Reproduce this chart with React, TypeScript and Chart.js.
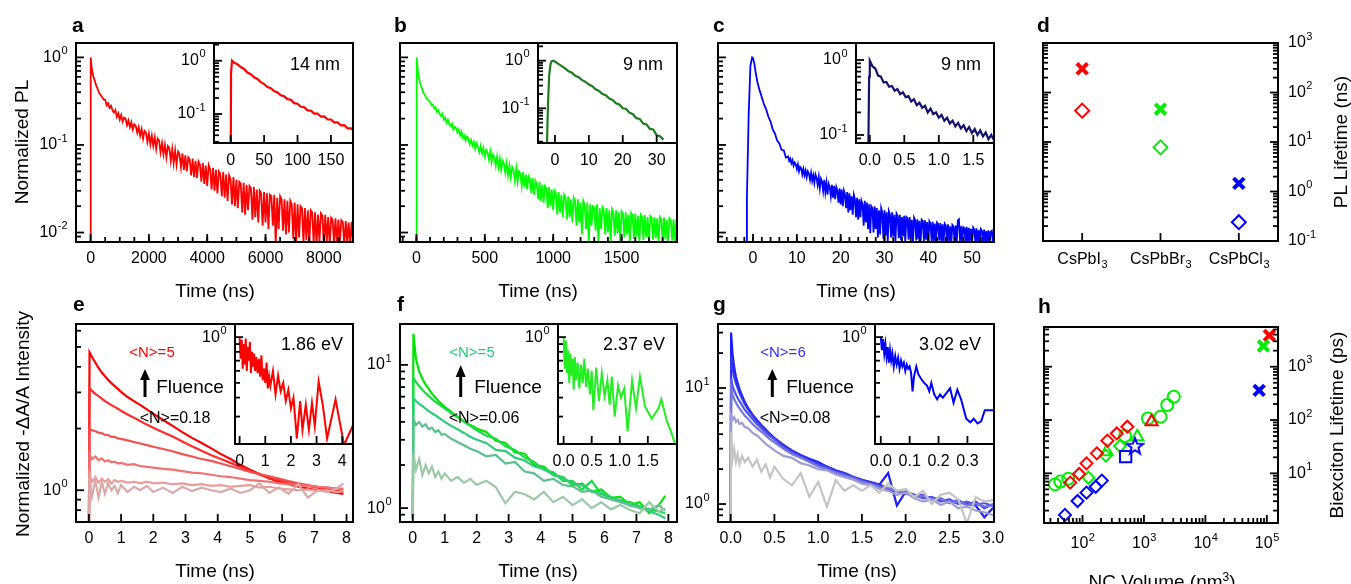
import React, { useEffect, useRef } from "react";
import { Chart, registerables } from "chart.js";
Chart.register(...registerables);

const FONT = '"Liberation Sans", Arial, Helvetica, sans-serif';
const W = 1351;
const H = 584;

// ---------------- Panel a (CsPbI3 PL) ----------------
const A_MAIN: number[][] = [[-400,0.001],[0,0.001],[5,1.0],[30,0.8],[60,0.68],[100,0.6],[150,0.53],[200,0.47],[250,0.43],[300,0.39],[350,0.37],[400,0.35],[450,0.33],
[500,0.33],[550,0.285],[600,0.3],[650,0.265],[700,0.28],[750,0.25],[800,0.235],[850,0.25],[900,0.21],[950,0.23],[1000,0.195],[1050,0.22],[1100,0.185],[1150,0.205],[1200,0.2],[1250,0.168],[1300,0.19],[1350,0.16],[1400,0.182],[1450,0.15],[1500,0.172],[1550,0.165],[1600,0.138],[1650,0.16],[1700,0.128],[1750,0.152],[1800,0.118],[1850,0.145],[1900,0.138],[1950,0.108],[2000,0.135],[2050,0.102],[2100,0.128],[2150,0.098],[2200,0.122],[2250,0.09],[2300,0.118],[2350,0.112],[2400,0.082],[2450,0.105],[2500,0.078],[2550,0.1],[2600,0.072],[2650,0.097],[2700,0.092],[2750,0.066],[2800,0.09],[2850,0.062],[2900,0.086],[2950,0.06],[3000,0.084],[3050,0.078],[3100,0.056],[3150,0.08],[3200,0.052],[3250,0.076],[3300,0.05],[3350,0.072],[3400,0.068],[3450,0.045],[3500,0.07],[3550,0.043],[3600,0.066],[3650,0.042],[3700,0.065],[3750,0.06],[3800,0.038],[3850,0.062],[3900,0.036],[3950,0.058],[4000,0.034],[4050,0.059],[4100,0.053],[4150,0.031],[4200,0.055],[4250,0.03],[4300,0.052],[4350,0.028],[4400,0.05],[4450,0.047],[4500,0.026],[4550,0.049],[4600,0.025],[4650,0.046],[4700,0.023],[4750,0.045],[4800,0.041],[4850,0.021],[4900,0.043],[4950,0.02],[5000,0.04],[5050,0.019],[5100,0.038],[5150,0.036],[5200,0.017],[5250,0.037],[5300,0.016],[5350,0.035],[5400,0.018],[5450,0.034],[5500,0.032],[5550,0.014],[5600,0.033],[5650,0.015],[5700,0.031],[5750,0.013],[5800,0.03],[5850,0.028],[5900,0.012],[5950,0.029],[6000,0.013],[6050,0.028],[6100,0.011],[6150,0.027],[6200,0.026],[6250,0.012],[6300,0.027],[6350,0.0072],[6400,0.025],[6450,0.011],[6500,0.026],[6550,0.024],[6600,0.0105],[6650,0.024],[6700,0.0095],[6750,0.023],[6800,0.01],[6850,0.023],[6900,0.021],[6950,0.0085],[7000,0.022],[7050,0.0074],[7100,0.021],[7150,0.0088],[7200,0.02],[7250,0.019],[7300,0.0076],[7350,0.019],[7400,0.0082],[7450,0.018],[7500,0.0075],[7550,0.018],[7600,0.017],[7650,0.0077],[7700,0.017],[7750,0.0073],[7800,0.016],[7850,0.0079],[7900,0.0165],[7950,0.0155],[8000,0.0074],[8050,0.016],[8100,0.0077],[8150,0.015],[8200,0.0072],[8250,0.0148],[8300,0.014],[8350,0.0076],[8400,0.0145],[8450,0.0073],[8500,0.014],[8550,0.0078],[8600,0.0138],[8650,0.0132],[8700,0.0074],[8750,0.0135],[8800,0.0077],[8850,0.013],[8900,0.0072],[8950,0.0133],[9000,0.0078]];
const A_INSET: number[][] = [[-25,0.005],[0,0.005],[0.5,0.6],[2,1.0],[5,0.92],[10,0.86],[15,0.76],[20,0.7],[25,0.6],[30,0.56],[35,0.49],[40,0.455],[45,0.395],[50,0.365],[55,0.32],[60,0.305],[65,0.27],[70,0.255],[75,0.225],[80,0.215],[85,0.19],[90,0.185],[95,0.16],[100,0.156],[105,0.137],[110,0.134],[115,0.117],[120,0.116],[125,0.102],[130,0.102],[135,0.089],[140,0.09],[145,0.079],[150,0.079],[155,0.069],[160,0.07],[165,0.061],[170,0.062],[175,0.054],[180,0.054],[185,0.049]];

// ---------------- Panel b (CsPbBr3 PL) ----------------
const B_MAIN: number[][] = [[-120,0.001],[0,0.001],[2,1.0],[10,0.7],[25,0.52],[50,0.4],[75,0.34],
[100,0.31],[110,0.285],[120,0.29],[130,0.26],[140,0.27],[150,0.24],[160,0.25],[170,0.225],[180,0.215],[190,0.228],[200,0.195],[210,0.205],[220,0.18],[230,0.195],[240,0.172],[250,0.165],[260,0.175],[270,0.15],[280,0.162],[290,0.155],[300,0.138],[310,0.15],[320,0.128],[330,0.142],[340,0.12],[350,0.128],[360,0.112],[370,0.125],[380,0.118],[390,0.102],[400,0.114],[410,0.098],[420,0.108],[430,0.09],[440,0.104],[450,0.095],[460,0.083],[470,0.098],[480,0.08],[490,0.092],[500,0.074],[510,0.088],[520,0.082],[530,0.068],[540,0.084],[550,0.064],[560,0.078],[570,0.072],[580,0.058],[590,0.074],[600,0.056],[610,0.07],[620,0.052],[630,0.066],[640,0.061],[650,0.048],[660,0.062],[670,0.045],[680,0.058],[690,0.043],[700,0.056],[710,0.052],[720,0.039],[730,0.054],[740,0.038],[750,0.05],[760,0.047],[770,0.034],[780,0.049],[790,0.033],[800,0.046],[810,0.031],[820,0.044],[830,0.041],[840,0.028],[850,0.042],[860,0.027],[870,0.039],[880,0.036],[890,0.024],[900,0.038],[910,0.023],[920,0.035],[930,0.022],[940,0.034],[950,0.032],[960,0.019],[970,0.033],[980,0.02],[990,0.031],[1000,0.018],[1010,0.03],[1020,0.028],[1030,0.016],[1040,0.029],[1050,0.017],[1060,0.027],[1070,0.015],[1080,0.027],[1090,0.025],[1100,0.014],[1110,0.026],[1120,0.015],[1130,0.024],[1140,0.013],[1150,0.025],[1160,0.023],[1170,0.012],[1180,0.024],[1190,0.013],[1200,0.022],[1210,0.0095],[1220,0.023],[1230,0.021],[1240,0.011],[1250,0.022],[1260,0.0075],[1270,0.021],[1280,0.012],[1290,0.02],[1300,0.0195],[1310,0.0105],[1320,0.021],[1330,0.0077],[1340,0.019],[1350,0.011],[1360,0.0195],[1370,0.018],[1380,0.0095],[1390,0.019],[1400,0.01],[1410,0.018],[1420,0.0076],[1430,0.0185],[1440,0.017],[1450,0.0092],[1460,0.018],[1470,0.0098],[1480,0.017],[1490,0.0078],[1500,0.0175],[1510,0.0165],[1520,0.0088],[1530,0.017],[1540,0.0095],[1550,0.016],[1560,0.0077],[1570,0.0168],[1580,0.0158],[1590,0.0085],[1600,0.0165],[1610,0.009],[1620,0.0155],[1630,0.0076],[1640,0.016],[1650,0.015],[1660,0.0082],[1670,0.0158],[1680,0.0088],[1690,0.015],[1700,0.0078],[1710,0.0155],[1720,0.0148],[1730,0.0083],[1740,0.015],[1750,0.0086],[1760,0.0145],[1770,0.0077],[1780,0.015],[1790,0.0142],[1800,0.008],[1810,0.0148],[1820,0.0084],[1830,0.014],[1840,0.0076],[1850,0.0145],[1860,0.0138],[1870,0.0081],[1880,0.0142],[1890,0.0079],[1900,0.014]];
const B_INSET: number[][] = [[-5,0.005],[-2.5,0.005],[-2.2,0.05],[-2,0.15],[-1.7,0.5],[-1.3,0.85],[-1,0.97],[-0.5,1.0],[0,0.96],[1,0.86],[2,0.77],[3,0.69],[4,0.6],[5,0.56],[6,0.48],[7,0.45],[8,0.39],[9,0.36],[10,0.315],[11,0.29],[12,0.25],[13,0.232],[14,0.2],[15,0.188],[16,0.16],[17,0.15],[18,0.128],[19,0.12],[20,0.1],[21,0.097],[22,0.081],[23,0.075],[24,0.062],[25,0.06],[26,0.048],[27,0.046],[28,0.037],[29,0.036],[30,0.027],[31,0.026],[32,0.022]];

// ---------------- Panel c (CsPbCl3 PL) ----------------
const C_MAIN: number[][] = [[-8,0.001],[-1.6,0.001],[-1.4,0.025],[-1,0.22],[-0.6,0.8],[-0.2,1.0],[0,0.98],[0.3,0.85],[0.5,0.72],[1,0.52],[1.5,0.42],[2,0.35],[2.5,0.29],[3,0.255],[3.5,0.21],[4,0.185],[4.5,0.15],[5,0.135],[5.5,0.112],[6,0.104],[6.5,0.088],[7,0.087],[7.5,0.072],
[8.0,0.074],[8.25,0.066],[8.5,0.07],[8.75,0.062],[9.0,0.067],[9.25,0.058],[9.5,0.063],[9.75,0.06],[10.0,0.053],[10.25,0.06],[10.5,0.05],[10.75,0.056],[11.0,0.054],[11.25,0.046],[11.5,0.053],[11.75,0.045],[12.0,0.051],[12.25,0.043],[12.5,0.05],[12.75,0.047],[13.0,0.04],[13.25,0.048],[13.5,0.039],[13.75,0.045],[14.0,0.037],[14.25,0.046],[14.5,0.042],[14.75,0.035],[15.0,0.043],[15.25,0.032],[15.5,0.041],[15.75,0.038],[16.0,0.03],[16.25,0.04],[16.5,0.029],[16.75,0.037],[17.0,0.027],[17.25,0.036],[17.5,0.033],[17.75,0.026],[18.0,0.035],[18.25,0.025],[18.5,0.034],[18.75,0.024],[19.0,0.033],[19.25,0.03],[19.5,0.022],[19.75,0.032],[20.0,0.021],[20.25,0.031],[20.5,0.02],[20.75,0.03],[21.0,0.027],[21.25,0.019],[21.5,0.029],[21.75,0.017],[22.0,0.028],[22.25,0.018],[22.5,0.026],[22.75,0.016],[23.0,0.027],[23.25,0.024],[23.5,0.015],[23.75,0.025],[24.0,0.014],[24.25,0.024],[24.5,0.015],[24.75,0.023],[25.0,0.021],[25.25,0.012],[25.5,0.023],[25.75,0.013],[26.0,0.022],[26.25,0.011],[26.5,0.021],[26.75,0.0098],[27.0,0.02],[27.25,0.019],[27.5,0.01],[27.75,0.02],[28.0,0.011],[28.25,0.019],[28.5,0.0088],[28.75,0.018],[29.0,0.0095],[29.25,0.019],[29.5,0.017],[29.75,0.0085],[30.0,0.018],[30.25,0.0092],[30.5,0.017],[30.75,0.008],[31.0,0.0175],[31.25,0.016],[31.5,0.0088],[31.75,0.017],[32.0,0.009],[32.25,0.016],[32.5,0.0078],[32.75,0.0165],[33.0,0.0155],[33.25,0.0086],[33.5,0.016],[33.75,0.0082],[34.0,0.015],[34.25,0.009],[34.5,0.0155],[34.75,0.0077],[35.0,0.015],[35.25,0.0145],[35.5,0.0083],[35.75,0.015],[36.0,0.0086],[36.25,0.014],[36.5,0.0076],[36.75,0.0148],[37.0,0.0138],[37.25,0.0081],[37.5,0.0142],[37.75,0.0084],[38.0,0.0136],[38.25,0.0077],[38.5,0.014],[38.75,0.0135],[39.0,0.008],[39.25,0.0138],[39.5,0.0083],[39.75,0.0132],[40.0,0.0076],[40.25,0.0135],[40.5,0.0128],[40.75,0.008],[41.0,0.0133],[41.25,0.0079],[41.5,0.0127],[41.75,0.0077],[42.0,0.013],[42.25,0.0125],[42.5,0.0081],[42.75,0.0128],[43.0,0.0076],[43.25,0.0124],[43.5,0.0079],[43.75,0.0126],[44.0,0.012],[44.25,0.0077],[44.5,0.0124],[44.75,0.008],[45.0,0.0118],[45.25,0.0076],[45.5,0.0122],[45.75,0.0117],[46.0,0.0079],[46.25,0.012],[46.5,0.0077],[46.75,0.0138],[47.0,0.0142],[47.25,0.008],[47.5,0.0118],[47.75,0.0076],[48.0,0.0115],[48.25,0.0112],[48.5,0.0078],[48.75,0.0116],[49.0,0.0077],[49.25,0.0113],[49.5,0.0079],[49.75,0.011],[50.0,0.0076],[50.25,0.0114],[50.5,0.0108],[50.75,0.0078],[51.0,0.0112],[51.25,0.0077],[51.5,0.0107],[51.75,0.0079],[52.0,0.011],[52.25,0.0105],[52.5,0.0076],[52.75,0.0108],[53.0,0.0078],[53.25,0.0104],[53.5,0.0077],[53.75,0.0106],[54.0,0.0079],[54.25,0.0102],[54.5,0.0105],[54.75,0.0077],[55.0,0.0104]];
const C_INSET: number[][] = [[-0.2,0.01],[-0.03,0.01],[-0.01,0.6],[0,0.98],[0.04,0.82],[0.08,0.77],[0.12,0.62],[0.16,0.6],[0.2,0.5],[0.24,0.51],[0.28,0.44],[0.32,0.45],[0.36,0.39],[0.4,0.41],[0.44,0.35],[0.48,0.37],[0.52,0.32],[0.56,0.33],[0.6,0.28],[0.64,0.3],[0.68,0.25],[0.72,0.27],[0.76,0.23],[0.8,0.245],[0.84,0.2],[0.88,0.225],[0.92,0.19],[0.96,0.2],[1.0,0.17],[1.04,0.185],[1.08,0.155],[1.12,0.17],[1.16,0.142],[1.2,0.155],[1.24,0.13],[1.28,0.145],[1.32,0.122],[1.36,0.135],[1.4,0.113],[1.44,0.128],[1.48,0.106],[1.52,0.12],[1.56,0.1],[1.6,0.115],[1.64,0.096],[1.68,0.108],[1.72,0.088],[1.76,0.1],[1.8,0.085]];

// ---------------- Panel d (PL lifetimes) ----------------
const D_CATEGORIES = ["CsPbI_3", "CsPbBr_3", "CsPbCl_3"];
const D_TAU_CROSS = [302, 46, 1.46];
const D_TAU_DIAMOND = [43, 7.8, 0.24];

// ---------------- Panels e, f (TA kinetics) ----------------
const TA_TIME = [0,0.02,0.1,0.2,0.3,0.4,0.5,0.6,0.7,0.8,0.9,1.0,1.2,1.4,1.6,1.8,2.0,2.3,2.6,2.9,3.2,3.5,3.8,4.1,4.4,4.7,5.0,5.3,5.6,5.9,6.2,6.5,6.8,7.1,7.4,7.7,7.9];
const E_CURVE_1 = [0.6,4.7,4.45,4.2,3.95,3.75,3.6,3.45,3.33,3.22,3.12,3.02,2.85,2.72,2.6,2.48,2.36,2.2,2.06,1.92,1.8,1.7,1.6,1.5,1.42,1.33,1.26,1.2,1.14,1.1,1.07,1.04,1.02,1.0,0.99,0.97,0.96];
const E_CURVE_2 = [0.6,3.15,3.05,2.95,2.88,2.8,2.72,2.66,2.6,2.55,2.5,2.44,2.34,2.26,2.17,2.09,2.02,1.92,1.83,1.73,1.64,1.56,1.48,1.42,1.36,1.3,1.24,1.19,1.15,1.12,1.09,1.07,1.05,1.03,1.01,1.0,0.98];
const E_CURVE_3 = [0.6,2.0,1.96,1.94,1.91,1.9,1.86,1.86,1.82,1.82,1.79,1.78,1.75,1.72,1.69,1.66,1.63,1.59,1.55,1.5,1.46,1.42,1.39,1.35,1.31,1.27,1.23,1.2,1.17,1.14,1.11,1.08,1.06,1.04,1.03,1.02,1.01];
const E_CURVE_4 = [0.6,1.5,1.42,1.46,1.4,1.43,1.38,1.4,1.37,1.38,1.35,1.36,1.33,1.34,1.31,1.3,1.29,1.27,1.26,1.24,1.22,1.21,1.19,1.17,1.16,1.14,1.12,1.11,1.1,1.08,1.07,1.06,1.05,1.04,1.03,1.02,1.02];
const E_CURVE_5 = [0.6,1.2,1.1,1.16,1.09,1.14,1.1,1.13,1.08,1.12,1.1,1.11,1.09,1.1,1.08,1.1,1.08,1.09,1.07,1.08,1.06,1.07,1.05,1.06,1.04,1.05,1.06,1.03,1.04,1.02,1.01,1.0,1.01,0.99,1.0,0.98,0.99];
const E_CURVE_6 = [0.6,1.15,0.93,1.12,0.92,1.1,0.96,1.08,1.0,1.05,0.97,1.06,0.98,1.04,1.0,1.05,0.98,1.03,0.97,1.04,0.99,1.03,1.0,0.98,1.02,0.97,1.0,1.08,0.97,1.03,0.96,1.07,0.92,1.0,0.98,1.02,1.08];
const E_INSET: number[][] = [[0,1.0],[0.04,0.72],[0.08,0.96],[0.12,0.62],[0.16,0.9],[0.2,0.66],[0.24,0.98],[0.28,0.6],[0.32,0.86],[0.36,0.7],[0.4,0.93],[0.44,0.58],[0.48,0.8],[0.52,0.64],[0.56,0.78],[0.6,0.6],[0.65,0.74],[0.7,0.58],[0.75,0.72],[0.8,0.55],[0.85,0.76],[0.9,0.52],[0.95,0.62],[1.0,0.5],[1.05,0.68],[1.1,0.46],[1.15,0.55],[1.2,0.48],[1.3,0.6],[1.4,0.42],[1.5,0.56],[1.6,0.44],[1.7,0.5],[1.8,0.38],[1.9,0.45],[2.0,0.34],[2.1,0.4],[2.23,0.215],[2.36,0.38],[2.45,0.245],[2.58,0.36],[2.7,0.245],[2.82,0.37],[2.93,0.26],[3.08,0.51],[3.25,0.35],[3.41,0.215],[3.74,0.39],[4.07,0.195],[4.45,0.27]];

const F_CURVE_1 = [0.85,16.5,11,9.0,8.0,7.3,6.8,6.3,5.95,5.6,5.35,5.1,4.7,4.35,4.05,3.8,3.6,3.4,2.95,2.85,2.45,2.4,2.0,1.95,1.7,1.65,1.45,1.48,1.3,1.35,1.18,1.2,1.05,1.1,0.92,1.05,1.22];
const F_CURVE_2 = [0.85,8.1,7.6,7.1,6.7,6.35,6.05,5.8,5.55,5.35,5.15,4.95,4.6,4.3,4.0,3.75,3.5,3.2,3.05,2.7,2.55,2.25,2.1,1.85,1.78,1.55,1.55,1.35,1.55,1.25,1.2,1.12,1.1,1.03,0.98,0.95,0.92];
const F_CURVE_3 = [0.85,5.85,5.6,5.35,5.15,4.95,4.75,4.6,4.45,4.3,4.15,4.0,3.75,3.55,3.35,3.15,3.0,2.85,2.55,2.5,2.25,2.15,1.95,1.88,1.7,1.62,1.48,1.45,1.3,1.28,1.16,1.14,1.04,1.02,0.95,0.9,0.85];
const F_CURVE_4 = [0.85,4.2,3.8,4.0,3.7,3.85,3.55,3.65,3.4,3.5,3.25,3.3,3.05,2.9,2.75,2.6,2.5,2.3,2.35,2.05,2.1,1.8,1.75,1.55,1.6,1.45,1.42,1.3,1.33,1.2,1.15,1.1,1.05,1.0,0.97,1.05,0.96];
const F_CURVE_5 = [0.85,2.4,1.85,2.2,1.7,2.0,1.75,1.95,1.65,1.8,1.6,1.75,1.55,1.65,1.5,1.6,1.45,1.55,1.4,1.08,1.3,1.25,1.15,1.3,1.1,1.2,1.05,1.15,1.0,1.1,0.98,1.05,0.97,0.92,1.1,0.95,1.0];
const F_INSET: number[][] = [[0,1.0],[0.02,0.62],[0.04,0.95],[0.06,0.58],[0.08,0.82],[0.1,0.5],[0.12,0.78],[0.14,0.56],[0.16,0.72],[0.18,0.45],[0.2,0.74],[0.22,0.52],[0.25,0.68],[0.28,0.46],[0.31,0.66],[0.34,0.5],[0.37,0.72],[0.4,0.47],[0.43,0.62],[0.47,0.42],[0.5,0.6],[0.53,0.33],[0.58,0.63],[0.63,0.38],[0.68,0.58],[0.73,0.41],[0.78,0.52],[0.82,0.36],[0.86,0.55],[0.91,0.3],[0.97,0.48],[1.02,0.4],[1.08,0.46],[1.14,0.24],[1.22,0.52],[1.29,0.34],[1.36,0.55],[1.45,0.35],[1.57,0.29],[1.69,0.34],[1.74,0.39],[1.84,0.28],[1.93,0.23],[2.0,0.19]];

// ---------------- Panel g ----------------
const G_TIME = [0,0.005,0.02,0.04,0.06,0.08,0.1,0.13,0.16,0.2,0.25,0.3,0.35,0.4,0.45,0.5,0.6,0.7,0.8,0.9,1.0,1.1,1.2,1.3,1.4,1.5,1.6,1.7,1.8,1.9,2.0,2.1,2.2,2.3,2.4,2.5,2.6,2.7,2.8,2.9,3.0];
const G_CURVE_1 = [0.6,30,20,15,12.5,11,9.8,8.6,7.6,6.7,5.9,5.3,4.8,4.4,4.0,3.7,3.25,2.9,2.65,2.45,2.3,2.1,1.95,1.85,1.72,1.62,1.55,1.47,1.85,0.97,1.28,1.2,1.17,1.12,1.1,1.05,1.03,1.0,0.97,0.77,0.93];
const G_CURVE_2 = [0.6,19,15,12.5,11,10,9.1,8.1,7.3,6.5,5.8,5.2,4.75,4.35,4.0,3.7,3.2,2.85,2.6,2.4,2.2,2.1,1.92,1.85,1.7,1.62,1.5,1.48,1.35,1.3,1.25,1.18,1.2,1.1,1.12,1.02,1.08,0.98,1.05,0.92,1.0];
const G_CURVE_3 = [0.6,12,10.5,9.5,8.8,8.2,7.7,7.1,6.5,6.0,5.4,4.9,4.5,4.15,3.85,3.6,3.1,2.8,2.55,2.35,2.15,2.05,1.88,1.8,1.66,1.6,1.48,1.42,1.33,1.3,1.22,1.2,1.12,1.15,1.05,1.1,1.0,1.05,0.98,1.02,0.96];
const G_CURVE_4 = [0.6,10,8.8,8.0,7.5,7.0,6.7,6.2,5.8,5.4,4.9,4.5,4.2,3.9,3.6,3.4,3.0,2.7,2.5,2.3,2.12,1.98,1.88,1.75,1.68,1.55,1.5,1.4,1.38,1.28,1.25,1.15,1.18,1.08,1.12,1.02,1.06,0.98,1.02,0.95,0.98];
const G_CURVE_5 = [0.6,5.8,5.3,5.6,5.1,5.3,4.9,5.0,4.6,4.5,4.1,3.9,3.6,3.3,3.1,2.9,2.6,2.5,2.25,2.15,2.0,1.95,1.8,1.7,1.62,1.5,1.45,1.35,1.3,1.2,1.25,1.12,1.05,1.1,0.98,1.05,0.92,0.95,0.88,0.85,0.8];
const G_CURVE_6 = [0.6,4.2,2.4,3.0,2.3,2.7,2.2,2.6,2.3,2.5,2.1,2.4,1.9,2.2,1.7,2.1,1.65,1.45,1.85,1.15,1.55,0.95,1.6,1.3,1.45,1.3,1.45,1.25,1.5,1.3,1.35,1.15,1.3,1.0,1.2,1.25,1.1,0.68,1.15,1.05,1.08];
const G_INSET: number[][] = [[0,1.0],[0.004,0.82],[0.008,0.97],[0.012,0.78],[0.016,0.9],[0.02,0.74],[0.024,0.86],[0.028,0.68],[0.032,0.82],[0.036,0.7],[0.04,0.78],[0.045,0.64],[0.05,0.75],[0.055,0.66],[0.06,0.73],[0.065,0.62],[0.07,0.7],[0.075,0.64],[0.08,0.68],[0.085,0.6],[0.09,0.66],[0.095,0.62],[0.1,0.64],[0.105,0.58],[0.11,0.44],[0.115,0.55],[0.123,0.64],[0.13,0.57],[0.14,0.53],[0.15,0.5],[0.16,0.48],[0.168,0.44],[0.175,0.5],[0.185,0.42],[0.195,0.39],[0.205,0.42],[0.215,0.4],[0.24,0.46],[0.252,0.37],[0.265,0.45],[0.278,0.39],[0.296,0.29],[0.31,0.275],[0.322,0.29],[0.335,0.27],[0.348,0.28],[0.36,0.33],[0.375,0.33],[0.392,0.33]];

// ---------------- Panel h (biexciton lifetime vs volume) ----------------
const H_RED_DIAMOND_VOL = [63, 88, 116, 171, 254, 361, 537];
const H_RED_DIAMOND_TAU = [6.7, 9.7, 15.4, 23.7, 41, 56, 75];
const H_RED_TRI_VOL = [1330];
const H_RED_TRI_TAU = [93];
const H_GREEN_CIRCLE_VOL = [35.6, 43.5, 58.6, 492, 1160, 1862, 2390, 3060];
const H_GREEN_CIRCLE_TAU = [6.2, 7.0, 7.9, 50, 107, 115, 191, 274];
const H_GREEN_DIAMOND_VOL = [125, 239, 408];
const H_GREEN_DIAMOND_TAU = [8.3, 21.5, 32.5];
const H_GREEN_TRI_VOL = [248, 780];
const H_GREEN_TRI_TAU = [25.5, 48.7];
const H_BLUE_DIAMOND_VOL = [51.8, 83, 116, 164, 206];
const H_BLUE_DIAMOND_TAU = [1.66, 3.03, 4.34, 5.6, 7.3];
const H_BLUE_SQUARE_VOL = [504];
const H_BLUE_SQUARE_TAU = [20.5];
const H_BLUE_STAR_VOL = [714];
const H_BLUE_STAR_TAU = [33];
const H_BULK_VOL = [110000, 88000, 75000];
const H_BULK_TAU = [3870, 2440, 360];

// ---------------- tick values / labels ----------------
const A_X_TICKS = [0, 2000, 4000, 6000, 8000];
const A_X_LABELS = ["0", "2000", "4000", "6000", "8000"];
const AI_X_TICKS = [0, 50, 100, 150];
const AI_X_LABELS = ["0", "50", "100", "150"];
const B_X_TICKS = [0, 500, 1000, 1500];
const B_X_LABELS = ["0", "500", "1000", "1500"];
const BI_X_TICKS = [0, 10, 20, 30];
const BI_X_LABELS = ["0", "10", "20", "30"];
const C_X_TICKS = [0, 10, 20, 30, 40, 50];
const C_X_LABELS = ["0", "10", "20", "30", "40", "50"];
const CI_X_TICKS = [0, 0.5, 1, 1.5];
const CI_X_LABELS = ["0.0", "0.5", "1.0", "1.5"];
const PL_Y_TICKS = [0.01, 0.1, 1];
const PL_Y_LABELS = ["10^-2", "10^-1", "10^0"];
const INSET_Y_TICKS = [0.1, 1];
const INSET_Y_LABELS = ["10^-1", "10^0"];
const D_Y_TICKS = [0.1, 1, 10, 100, 1000];
const D_Y_LABELS = ["10^-1", "10^0", "10^1", "10^2", "10^3"];
const EF_X_TICKS = [0, 1, 2, 3, 4, 5, 6, 7, 8];
const EF_X_LABELS = ["0", "1", "2", "3", "4", "5", "6", "7", "8"];
const EI_X_TICKS = [0, 1, 2, 3, 4];
const EI_X_LABELS = ["0", "1", "2", "3", "4"];
const FI_X_TICKS = [0, 0.5, 1, 1.5];
const FI_X_LABELS = ["0.0", "0.5", "1.0", "1.5"];
const G_X_TICKS = [0, 0.5, 1, 1.5, 2, 2.5, 3];
const G_X_LABELS = ["0.0", "0.5", "1.0", "1.5", "2.0", "2.5", "3.0"];
const GI_X_TICKS = [0, 0.1, 0.2, 0.3];
const GI_X_LABELS = ["0.0", "0.1", "0.2", "0.3"];
const E_Y_TICKS = [1];
const E_Y_LABELS = ["10^0"];
const FG_Y_TICKS = [1, 10];
const FG_Y_LABELS = ["10^0", "10^1"];
const H_X_TICKS = [100, 1000, 10000, 100000];
const H_X_LABELS = ["10^2", "10^3", "10^4", "10^5"];
const H_Y_TICKS = [10, 100, 1000];
const H_Y_LABELS = ["10^1", "10^2", "10^3"];

// ---------------- helpers ----------------
function logMinor(min: number, max: number): number[] {
  const out: number[] = [];
  for (let e = Math.floor(Math.log10(min)); e <= Math.ceil(Math.log10(max)); e++) {
    for (let m = 2; m <= 9; m++) {
      const v = m * Math.pow(10, e);
      if (v >= min && v <= max) out.push(v);
    }
  }
  return out;
}
function range(a: number, b: number, s: number): number[] {
  const out: number[] = [];
  for (let v = a; v <= b + 1e-9; v += s) out.push(Math.round(v * 1000) / 1000);
  return out;
}

function drawRich(ctx: CanvasRenderingContext2D, text: string, x: number, y: number, align: string, size: number) {
  let base = text, sup = "", sub = "";
  const i = base.indexOf("^");
  if (i >= 0) { sup = base.slice(i + 1); base = base.slice(0, i); }
  const j = base.indexOf("_");
  if (j >= 0) { sub = base.slice(j + 1); base = base.slice(0, j); }
  const small = Math.round(size * 0.68);
  ctx.font = `${size}px ${FONT}`;
  const wb = ctx.measureText(base).width;
  ctx.font = `${small}px ${FONT}`;
  const ws = ctx.measureText(sup || sub).width;
  const tw = wb + ws;
  const x0 = align === "left" ? x : align === "right" ? x - tw : x - tw / 2;
  ctx.textAlign = "left";
  ctx.textBaseline = "middle";
  ctx.font = `${size}px ${FONT}`;
  ctx.fillText(base, x0, y);
  ctx.font = `${small}px ${FONT}`;
  if (sup) ctx.fillText(sup, x0 + wb + 0.5, y - size * 0.4);
  if (sub) ctx.fillText(sub, x0 + wb + 0.5, y + size * 0.3);
}

type Axis = {
  type: "linear" | "logarithmic";
  min: number;
  max: number;
  major: number[];
  labels?: string[];
  minor?: number[];
  sides: string[];
  labelSide?: string;
  labelOffset?: number;
};

function axesPlugin(x: Axis, y: Axis, white: boolean) {
  return {
    id: "axesDraw",
    beforeDraw(chart: any) {
      if (!white) return;
      const a = chart.chartArea;
      const ctx = chart.ctx;
      ctx.save();
      ctx.fillStyle = "#ffffff";
      ctx.fillRect(a.left, a.top, a.right - a.left, a.bottom - a.top);
      ctx.restore();
    },
    afterDraw(chart: any) {
      const ctx: CanvasRenderingContext2D = chart.ctx;
      const a = chart.chartArea;
      const xs = chart.scales.x;
      const ys = chart.scales.y;
      ctx.save();
      ctx.strokeStyle = "#000";
      ctx.lineWidth = 1.8;
      const line = (x1: number, y1: number, x2: number, y2: number) => {
        ctx.beginPath(); ctx.moveTo(x1, y1); ctx.lineTo(x2, y2); ctx.stroke();
      };
      const groups: [number[], number][] = [[x.major, 8], [x.minor || [], 5]];
      for (const [vals, len] of groups) {
        for (const v of vals) {
          const p = xs.getPixelForValue(v);
          if (p < a.left + 1 || p > a.right - 1) continue;
          if (x.sides.includes("bottom")) line(p, a.bottom, p, a.bottom - len);
        }
      }
      const ygroups: [number[], number][] = [[y.major, 8], [y.minor || [], 5]];
      for (const [vals, len] of ygroups) {
        for (const v of vals) {
          const p = ys.getPixelForValue(v);
          if (p < a.top + 1 || p > a.bottom - 1) continue;
          if (y.sides.includes("left")) line(a.left, p, a.left + len, p);
          if (y.sides.includes("right")) line(a.right, p, a.right - len, p);
        }
      }
      ctx.lineWidth = 2;
      ctx.strokeRect(a.left, a.top, a.right - a.left, a.bottom - a.top);
      ctx.fillStyle = "#000";
      if (x.labels) {
        x.labels.forEach((s, i) => {
          if (!s) return;
          const p = xs.getPixelForValue(x.major[i]);
          drawRich(ctx, s, p, a.bottom + (x.labelOffset ?? 17), "center", 16);
        });
      }
      if (y.labels) {
        y.labels.forEach((s, i) => {
          if (!s) return;
          const p = ys.getPixelForValue(y.major[i]);
          if (y.labelSide === "right") drawRich(ctx, s, a.right + 10, p, "left", 16);
          else drawRich(ctx, s, a.left - 9, p, "right", 16);
        });
      }
      ctx.restore();
    },
  };
}

type Box = { l: number; t: number; r: number; b: number };
type Panel = { box: Box; type: string; x: Axis; y: Axis; datasets: any[]; white?: boolean };

const pairsDs = (pairs: number[][], color: string, width: number) => ({
  data: pairs.map(([px, py]) => ({ x: px, y: py })),
  borderColor: color, borderWidth: width, pointRadius: 0, fill: false, tension: 0,
});
const seriesDs = (time: number[], vals: number[], color: string, width: number) => ({
  data: time.map((t, i) => ({ x: t, y: vals[i] })),
  borderColor: color, borderWidth: width, pointRadius: 0, fill: false, tension: 0,
});
const markerDs = (xs: number[], ys: number[], style: any, color: string, radius: number, width: number) => ({
  data: xs.map((v, i) => ({ x: v, y: ys[i] })),
  pointStyle: style, pointRadius: radius, pointBorderWidth: width,
  pointBorderColor: color, borderColor: color, pointBackgroundColor: "rgba(0,0,0,0)",
  backgroundColor: "rgba(0,0,0,0)", showLine: false,
});

function makeStar(color: string): HTMLCanvasElement {
  const c = document.createElement("canvas");
  c.width = 20; c.height = 20;
  const g = c.getContext("2d")!;
  g.strokeStyle = color; g.lineWidth = 2; g.lineJoin = "miter";
  g.beginPath();
  for (let k = 0; k < 10; k++) {
    const r = k % 2 === 0 ? 8.5 : 3.6;
    const ang = -Math.PI / 2 + (k * Math.PI) / 5;
    const px = 10 + r * Math.cos(ang), py = 10.8 + r * Math.sin(ang);
    if (k === 0) g.moveTo(px, py); else g.lineTo(px, py);
  }
  g.closePath(); g.stroke();
  return c;
}

const RED = "#ff0000";
const GREEN = "#00ee00";
const BLUE = "#0000ff";

function buildPanels(): Panel[] {
  const row1 = { t: 43, b: 242 };
  const row2 = { t: 324, b: 522 };
  const plY = (labels: boolean): Axis => ({ type: "logarithmic", min: 0.0078, max: 1.46, major: PL_Y_TICKS, labels: labels ? PL_Y_LABELS : undefined, minor: logMinor(0.0078, 1.46), sides: ["left"] });
  const insetY = (min: number, max: number): Axis => ({ type: "logarithmic", min, max, major: INSET_Y_TICKS, labels: INSET_Y_LABELS, minor: logMinor(min, max), sides: ["left"] });
  const taInsetY: Axis = { type: "logarithmic", min: 0.198, max: 1.22, major: E_Y_TICKS, labels: E_Y_LABELS, minor: logMinor(0.198, 1.22), sides: ["left"] };
  const star = makeStar(BLUE);
  return [
    { box: { l: 76, ...row1, r: 353 }, type: "line",
      x: { type: "linear", min: -500, max: 9000, major: A_X_TICKS, labels: A_X_LABELS, minor: range(500, 8500, 500), sides: ["bottom"] },
      y: plY(true), datasets: [pairsDs(A_MAIN, RED, 1.8)] },
    { box: { l: 400, ...row1, r: 677 }, type: "line",
      x: { type: "linear", min: -120, max: 1905, major: B_X_TICKS, labels: B_X_LABELS, minor: range(-100, 1900, 100), sides: ["bottom"] },
      y: plY(false), datasets: [pairsDs(B_MAIN, "#00ff00", 1.8)] },
    { box: { l: 718, ...row1, r: 994 }, type: "line",
      x: { type: "linear", min: -8, max: 55, major: C_X_TICKS, labels: C_X_LABELS, minor: range(-6, 54, 2), sides: ["bottom"] },
      y: plY(false), datasets: [pairsDs(C_MAIN, BLUE, 1.8)] },
    { box: { l: 1043, t: 43, b: 241, r: 1278 }, type: "scatter",
      x: { type: "linear", min: -0.5, max: 2.5, major: [0, 1, 2], labels: D_CATEGORIES, sides: ["bottom"], labelOffset: 19 },
      y: { type: "logarithmic", min: 0.1, max: 1000, major: D_Y_TICKS, labels: D_Y_LABELS, minor: logMinor(0.1, 1000), sides: ["left", "right"], labelSide: "right" },
      datasets: [
        markerDs([0, 1, 2], D_TAU_DIAMOND, "rectRot", RED, 7, 2),
        markerDs([0, 1, 2], D_TAU_CROSS, "crossRot", RED, 7.5, 4),
      ].map((ds) => ({ ...ds, pointBorderColor: [RED, GREEN, BLUE] })) },
    { box: { l: 76, ...row2, r: 353 }, type: "line",
      x: { type: "linear", min: -0.4, max: 8.2, major: EF_X_TICKS, labels: EF_X_LABELS, sides: ["bottom"] },
      y: { type: "logarithmic", min: 0.723, max: 6.47, major: E_Y_TICKS, labels: E_Y_LABELS, minor: logMinor(0.723, 6.47), sides: ["left"] },
      datasets: [
        seriesDs(TA_TIME, E_CURVE_6, "#d9aaaa", 2.2),
        seriesDs(TA_TIME, E_CURVE_5, "#ec9a9a", 2.2),
        seriesDs(TA_TIME, E_CURVE_4, "#f07272", 2.2),
        seriesDs(TA_TIME, E_CURVE_3, "#f45050", 2.2),
        seriesDs(TA_TIME, E_CURVE_2, "#ff2b2b", 2.2),
        seriesDs(TA_TIME, E_CURVE_1, "#ff0000", 2.2),
      ] },
    { box: { l: 400, ...row2, r: 677 }, type: "line",
      x: { type: "linear", min: -0.4, max: 8.27, major: EF_X_TICKS, labels: EF_X_LABELS, sides: ["bottom"] },
      y: { type: "logarithmic", min: 0.8, max: 19.3, major: FG_Y_TICKS, labels: FG_Y_LABELS, minor: logMinor(0.8, 19.3), sides: ["left"] },
      datasets: [
        seriesDs(TA_TIME, F_CURVE_5, "#9cc8a6", 2.2),
        seriesDs(TA_TIME, F_CURVE_4, "#5cc08e", 2.2),
        seriesDs(TA_TIME, F_CURVE_3, "#2ecc7a", 2.2),
        seriesDs(TA_TIME, F_CURVE_2, "#1ed84a", 2.2),
        seriesDs(TA_TIME, F_CURVE_1, "#00e600", 2.2),
      ] },
    { box: { l: 718, ...row2, r: 994 }, type: "line",
      x: { type: "linear", min: -0.145, max: 3.01, major: G_X_TICKS, labels: G_X_LABELS, sides: ["bottom"] },
      y: { type: "logarithmic", min: 0.71, max: 35.6, major: FG_Y_TICKS, labels: FG_Y_LABELS, minor: logMinor(0.71, 35.6), sides: ["left"] },
      datasets: [
        seriesDs(G_TIME, G_CURVE_6, "#c4c4c4", 2.2),
        seriesDs(G_TIME, G_CURVE_5, "#9d9dd6", 2.2),
        seriesDs(G_TIME, G_CURVE_4, "#7474e0", 2.2),
        seriesDs(G_TIME, G_CURVE_3, "#5050ea", 2.2),
        seriesDs(G_TIME, G_CURVE_2, "#3535f0", 2.2),
        seriesDs(G_TIME, G_CURVE_1, "#1e1eff", 2.2),
      ] },
    { box: { l: 1044, t: 327, b: 523, r: 1278 }, type: "scatter",
      x: { type: "logarithmic", min: 23.6, max: 152000, major: H_X_TICKS, labels: H_X_LABELS, minor: logMinor(23.6, 152000), sides: ["bottom"], labelOffset: 21 },
      y: { type: "logarithmic", min: 1.17, max: 5560, major: H_Y_TICKS, labels: H_Y_LABELS, minor: logMinor(1.17, 5560), sides: ["left", "right"], labelSide: "right" },
      datasets: [
        markerDs(H_BLUE_DIAMOND_VOL, H_BLUE_DIAMOND_TAU, "rectRot", BLUE, 6, 2),
        markerDs(H_BLUE_SQUARE_VOL, H_BLUE_SQUARE_TAU, "rect", BLUE, 8, 2),
        markerDs(H_BLUE_STAR_VOL, H_BLUE_STAR_TAU, star, BLUE, 8, 2),
        markerDs(H_RED_DIAMOND_VOL, H_RED_DIAMOND_TAU, "rectRot", RED, 6, 2),
        markerDs(H_RED_TRI_VOL, H_RED_TRI_TAU, "triangle", RED, 7, 2),
        markerDs(H_GREEN_DIAMOND_VOL, H_GREEN_DIAMOND_TAU, "rectRot", GREEN, 6, 2),
        markerDs(H_GREEN_TRI_VOL, H_GREEN_TRI_TAU, "triangle", GREEN, 7, 2),
        markerDs(H_GREEN_CIRCLE_VOL, H_GREEN_CIRCLE_TAU, "circle", GREEN, 6, 2),
        { ...markerDs(H_BULK_VOL, H_BULK_TAU, "crossRot", RED, 7.5, 4), pointBorderColor: [RED, GREEN, BLUE] },
      ] },
    // insets
    { box: { l: 214, t: 43, b: 143, r: 353 }, type: "line", white: true,
      x: { type: "linear", min: -25, max: 183, major: AI_X_TICKS, labels: AI_X_LABELS, sides: ["bottom"], labelOffset: 18 },
      y: insetY(0.0286, 2.15), datasets: [pairsDs(A_INSET, RED, 2.2)] },
    { box: { l: 538, t: 43, b: 143, r: 677 }, type: "line", white: true,
      x: { type: "linear", min: -5, max: 36, major: BI_X_TICKS, labels: BI_X_LABELS, sides: ["bottom"], labelOffset: 18 },
      y: insetY(0.0187, 2.35), datasets: [pairsDs(B_INSET, "#1e7d1e", 2.2)] },
    { box: { l: 856, t: 43, b: 143, r: 994 }, type: "line", white: true,
      x: { type: "linear", min: -0.2, max: 1.8, major: CI_X_TICKS, labels: CI_X_LABELS, sides: ["bottom"], labelOffset: 18 },
      y: insetY(0.0782, 1.686), datasets: [pairsDs(C_INSET, "#14146e", 2.2)] },
    { box: { l: 235, t: 324, b: 444, r: 353 }, type: "line", white: true,
      x: { type: "linear", min: -0.18, max: 4.42, major: EI_X_TICKS, labels: EI_X_LABELS, sides: ["bottom"], labelOffset: 18 },
      y: taInsetY, datasets: [pairsDs(E_INSET, RED, 2)] },
    { box: { l: 558, t: 324, b: 444, r: 677 }, type: "line", white: true,
      x: { type: "linear", min: -0.1, max: 2.02, major: FI_X_TICKS, labels: FI_X_LABELS, sides: ["bottom"], labelOffset: 18 },
      y: taInsetY, datasets: [pairsDs(F_INSET, "#22ee22", 2)] },
    { box: { l: 875, t: 324, b: 444, r: 994 }, type: "line", white: true,
      x: { type: "linear", min: -0.02, max: 0.392, major: GI_X_TICKS, labels: GI_X_LABELS, sides: ["bottom"], labelOffset: 18 },
      y: taInsetY, datasets: [pairsDs(G_INSET, BLUE, 2)] },
  ];
}

function PanelCanvas({ panel }: { panel: Panel }) {
  const ref = useRef<HTMLCanvasElement | null>(null);
  useEffect(() => {
    const cv = ref.current;
    if (!cv) return;
    const { box, x, y } = panel;
    const chart = new Chart(cv, {
      type: panel.type as any,
      data: { datasets: panel.datasets },
      options: {
        animation: false,
        responsive: false,
        maintainAspectRatio: false,
        events: [],
        layout: { padding: { left: box.l, top: box.t, right: W - box.r, bottom: H - box.b } },
        plugins: { legend: { display: false }, tooltip: { enabled: false } },
        scales: {
          x: { type: x.type, min: x.min, max: x.max, display: false },
          y: { type: y.type, min: y.min, max: y.max, display: false },
        },
      } as any,
      plugins: [axesPlugin(x, y, !!panel.white)],
    });
    return () => chart.destroy();
  }, [panel]);
  return (
    <canvas ref={ref} width={W} height={H}
      style={{ position: "absolute", left: 0, top: 0, width: W, height: H, pointerEvents: "none" }} />
  );
}

const Txt = ({ x, base, size, children, color = "#000", bold = false, align = "center" }: any) => (
  <div style={{
    position: "absolute", left: x, top: base - 0.8465 * size, fontFamily: FONT, fontSize: size,
    lineHeight: `${size}px`, whiteSpace: "nowrap", color, fontWeight: bold ? "bold" : "normal",
    transform: align === "center" ? "translateX(-50%)" : "none",
  }}>{children}</div>
);
const VTxt = ({ cx, cy, size, children }: any) => (
  <div style={{
    position: "absolute", left: cx, top: cy, transform: "translate(-50%,-50%) rotate(-90deg)",
    fontFamily: FONT, fontSize: size, lineHeight: `${size}px`, whiteSpace: "nowrap", color: "#000",
  }}>{children}</div>
);

export default function App() {
  const panelsRef = useRef<Panel[] | null>(null);
  if (!panelsRef.current) panelsRef.current = buildPanels();
  const panels = panelsRef.current;
  return (
    <div style={{ position: "absolute", left: 0, top: 0, width: W, height: H, background: "#fff", overflow: "hidden" }}>
      {panels.map((p, i) => <PanelCanvas key={i} panel={p} />)}
      <svg width={W} height={H} style={{ position: "absolute", left: 0, top: 0, pointerEvents: "none" }}>
        {[145, 460.7, 772.3].map((ax, i) => (
          <g key={i}>
            <line x1={ax} y1={397} x2={ax} y2={377} stroke="#000" strokeWidth={3} />
            <polygon points={`${ax},${i === 1 ? 365 : 369} ${ax - 5},${i === 1 ? 377 : 380} ${ax + 5},${i === 1 ? 377 : 380}`} fill="#000" />
          </g>
        ))}
      </svg>
      <Txt x={72} base={32} size={21} bold align="left">a</Txt>
      <Txt x={394} base={32} size={21} bold align="left">b</Txt>
      <Txt x={713} base={32} size={21} bold align="left">c</Txt>
      <Txt x={1037} base={32} size={21} bold align="left">d</Txt>
      <Txt x={73} base={311} size={21} bold align="left">e</Txt>
      <Txt x={397} base={311} size={21} bold align="left">f</Txt>
      <Txt x={713} base={311} size={21} bold align="left">g</Txt>
      <Txt x={1038} base={313} size={21} bold align="left">h</Txt>
      <Txt x={215} base={297} size={19}>Time (ns)</Txt>
      <Txt x={538} base={297} size={19}>Time (ns)</Txt>
      <Txt x={856} base={297} size={19}>Time (ns)</Txt>
      <Txt x={215} base={577} size={19}>Time (ns)</Txt>
      <Txt x={538} base={577} size={19}>Time (ns)</Txt>
      <Txt x={857} base={577} size={19}>Time (ns)</Txt>
      <Txt x={1162} base={584} size={19}>NC Volume (nm<sup style={{ fontSize: 12 }}>3</sup>)</Txt>
      <VTxt cx={21} cy={142} size={19}>Normalized PL</VTxt>
      <VTxt cx={22} cy={424} size={19}>Normalized -ΔA/A Intensity</VTxt>
      <VTxt cx={1340} cy={142} size={19}>PL Lifetime (ns)</VTxt>
      <VTxt cx={1336} cy={425} size={19}>Biexciton Lifetime (ps)</VTxt>
      <Txt x={315} base={70} size={18}>14 nm</Txt>
      <Txt x={643} base={70} size={18}>9 nm</Txt>
      <Txt x={961} base={70} size={18}>9 nm</Txt>
      <Txt x={312} base={350} size={18}>1.86 eV</Txt>
      <Txt x={634} base={350} size={18}>2.37 eV</Txt>
      <Txt x={950} base={350} size={18}>3.02 eV</Txt>
      <Txt x={152} base={357} size={15} color="#ff0000">&lt;N&gt;=5</Txt>
      <Txt x={472} base={357} size={15} color="#22cc77">&lt;N&gt;=5</Txt>
      <Txt x={783} base={357} size={15} color="#3030ff">&lt;N&gt;=6</Txt>
      <Txt x={190} base={393} size={19}>Fluence</Txt>
      <Txt x={508} base={393} size={19}>Fluence</Txt>
      <Txt x={820} base={393} size={19}>Fluence</Txt>
      <Txt x={175} base={424} size={16}>&lt;N&gt;=0.18</Txt>
      <Txt x={484} base={424} size={16}>&lt;N&gt;=0.06</Txt>
      <Txt x={795} base={424} size={16}>&lt;N&gt;=0.08</Txt>
    </div>
  );
}
